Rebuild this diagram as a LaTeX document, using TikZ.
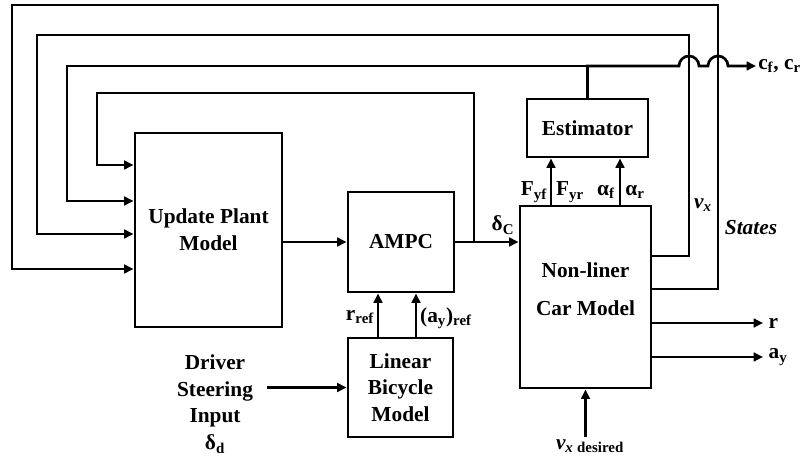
\documentclass[tikz,border=0pt]{standalone}
\usepackage{fontspec}
\setmainfont{Liberation Serif}
\usetikzlibrary{arrows.meta, calc}

\begin{document}
\begin{tikzpicture}[
  x=0.75pt, y=-0.75pt,
  font=\fontsize{16}{20}\selectfont\bfseries,
  blk/.style={draw, line width=2.2pt, align=center, inner sep=0pt},
  flow/.style={-{Triangle[length=7pt,width=6.5pt]}, line width=2pt},
  note/.style={inner sep=1.5pt, align=center},
  outlbl/.style={note, anchor=west, inner xsep=4pt}
]
\useasboundingbox (0,0) rectangle (800,459);

% --- the blocks ---
\node[blk, minimum width=110.25pt, minimum height=145.5pt] (upd) at (208.5,230) {Update Plant\\Model};
\node[blk, minimum width=79.5pt, minimum height=75pt] (ampc) at (401,242) {AMPC};
\node[blk, minimum width=78.75pt, minimum height=74.25pt] (lbm) at (400.5,387.5) {Linear\\Bicycle\\Model};
\node[blk, minimum width=98.25pt, minimum height=136.5pt] (car) at (585.5,297) {};
\node[note] (cartext) at (585.5,289) {Non-liner\\[8.5pt]Car Model};
\node[blk, minimum width=90.75pt, minimum height=43.5pt] (est) at (587.5,128) {Estimator};

% --- signal labels ---
\node[note] (drv) at (215,404) {Driver\\Steering\\Input\\δ\textsubscript{d}};
\node[note] (dc) at (503,225) {δ\textsubscript{C}};
\node[note] (fyf) at (534,192) {F\textsubscript{yf}};
\node[note] (fyr) at (570,192) {F\textsubscript{yr}};
\node[note] (af) at (606,192) {α\textsubscript{f}};
\node[note] (ar) at (635,192) {α\textsubscript{r}};
\node[note] (rref) at (360,317) {r\textsubscript{ref}};
\node[note] (ayref) at (446,318) {(a\textsubscript{y})\textsubscript{ref}};
\node[note] (vx) at (703,205) {\itshape v\textsubscript{x}};
\node[note] (states) at (751,228) {\itshape States};
\node[note, anchor=west] (cfcr) at (756,66) {c\textsubscript{f}, c\textsubscript{r}};
\node[outlbl] (rout) at (763,323) {r};
\node[outlbl] (ayout) at (763,357) {a\textsubscript{y}};
\node[note] (vxd) at (590,446) {{\itshape v\textsubscript{x}}\,\textsubscript{desired}};

% --- feedback loops into the plant model ---
\draw[flow] (car.east |- 0,289) -- (718,289) |- (12,5) |- (upd.west |- 0,269);
\draw[flow] (car.east |- 0,256) -- (689,256) |- (37,35) |- (upd.west |- 0,234);
\draw[flow] (est.north) |- (67,66) |- (upd.west |- 0,201);
\coordinate (br) at (ampc.east -| 474,0);
\draw[flow] (br) |- (97,93) |- (upd.west |- 0,165);

% --- forward path ---
\draw[flow] (upd.east |- ampc.west) -- (ampc.west);
\draw[flow] (ampc.east) -- (car.west |- ampc.east);

% estimator output hops over the two loops
\draw[flow] (est.north) |- (679,66) arc[start angle=180, end angle=0, radius=7.5pt]
  -- (708,66) arc[start angle=180, end angle=0, radius=7.5pt] -- (cfcr.west);

% --- reference signals ---
\draw[flow] (lbm.north -| 378,0) -- (ampc.south -| 378,0);
\draw[flow] (lbm.north -| 416,0) -- (ampc.south -| 416,0);
\coordinate (drvout) at ([xshift=9pt]drv.east);
\draw[flow] (drvout |- lbm.west) -- (lbm.west);

% --- estimator inputs ---
\draw[flow] (car.north -| 551,0) -- (est.south -| 551,0);
\draw[flow] (car.north -| 620,0) -- (est.south -| 620,0);

% --- outputs and speed demand ---
\draw[flow] (car.east |- rout.west) -- (rout.west);
\draw[flow] (car.east |- ayout.west) -- (ayout.west);
\draw[flow] (vxd.north -| car.south) -- (car.south);

\end{tikzpicture}
\end{document}
